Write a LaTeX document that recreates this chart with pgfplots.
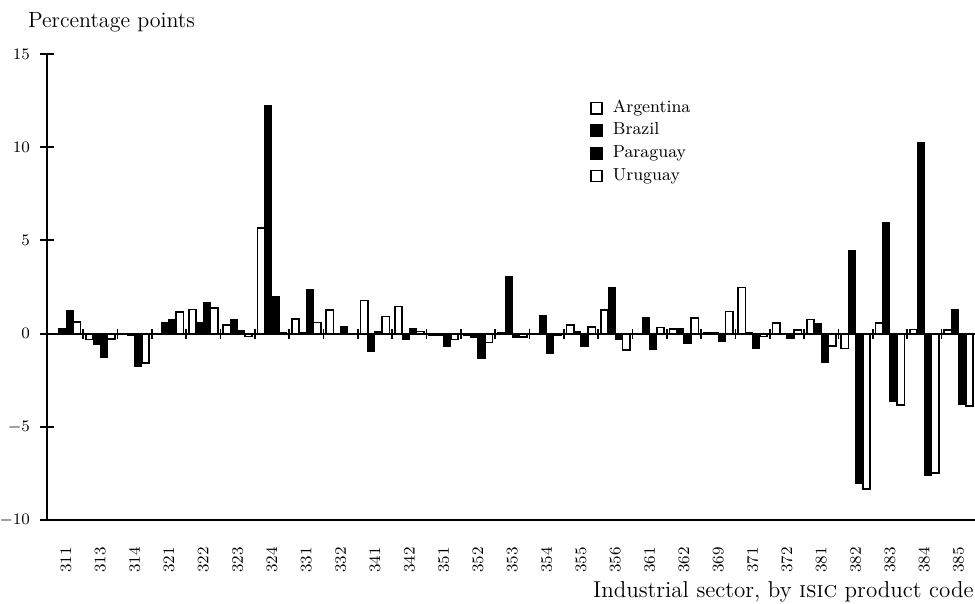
\documentclass[border=0pt]{standalone}
\usepackage{pgfplots}
\usepackage{pgfplotstable}
\pgfplotsset{compat=1.18}
\pgfplotstableread{
i code A B P U
0  311  0.00  0.28  1.22  0.63
1  313 -0.32 -0.60 -1.27 -0.28
2  314  0.00 -0.10 -1.78 -1.57
3  321  0.00  0.60  0.77  1.14
4  322  1.30  0.60  1.68  1.36
5  323  0.45  0.73  0.18 -0.15
6  324  5.65 12.25  1.98  0.05
7  331  0.80  0.05  2.35  0.60
8  332  1.27  0.00  0.40  0.00
9  341  1.78 -0.95  0.10  0.92
10 342  1.45 -0.34  0.30  0.12
11 351 -0.10 -0.10 -0.70 -0.32
12 352 -0.10 -0.20 -1.33 -0.48
13 353  0.05  3.07 -0.20 -0.18
14 354  0.00  0.97 -1.08 -0.10
15 355  0.45  0.10 -0.70  0.34
16 356  1.25  2.48 -0.30 -0.87
17 361  0.00  0.88 -0.88  0.33
18 362  0.25  0.30 -0.54  0.82
19 369  0.05  0.05 -0.45  1.18
20 371  2.47  0.05 -0.80 -0.15
21 372  0.58  0.00 -0.27  0.20
22 381  0.75  0.53 -1.55 -0.65
23 382 -0.80  4.46 -8.04 -8.33
24 383  0.55  5.98 -3.62 -3.82
25 384  0.22 10.27 -7.62 -7.48
26 385  0.20  1.27 -3.82 -3.88
}\data
\pgfplotsset{
  sqlegend/.style={legend image code/.code={\draw[##1, line width=0.8pt] (0pt,-2.8pt) rectangle (5.6pt,2.8pt);}},
  whitebar/.style={fill=white, draw=black, line width=0.85pt, sqlegend},
  blackbar/.style={fill=black, draw=black, line width=0.5pt, sqlegend},
}
\begin{document}
\begin{tikzpicture}
\useasboundingbox (-23.5pt,-42pt) rectangle (464pt,260pt);
\begin{axis}[
  at={(0,0)}, anchor=south west,
  scale only axis, width=464pt, height=233pt,
  xmin=-0.5535, xmax=26.478, ymin=-10, ymax=15,
  axis x line*=bottom, axis y line*=left,
  axis line style={line width=1.1pt, -},
  xtick={0,...,26},
  xticklabels={311,313,314,321,322,323,324,331,332,341,342,351,352,353,354,355,356,361,362,369,371,372,381,382,383,384,385},
  x tick style={draw=none},
  xticklabel style={rotate=90, anchor=east, font=\fontsize{8}{9}\selectfont},
  xticklabel shift=3pt,
  ytick={-10,-5,0,5,10,15},
  y tick style={line width=1pt, black},
  tick align=center, major tick length=7pt,
  yticklabel style={font=\fontsize{8}{9}\selectfont},
  yticklabel shift=1.5pt,
  ybar, bar width=0.211,
  legend cell align=left,
  legend style={draw=none, fill=none, at={(0.585,0.909)}, anchor=north west,
    font=\fontsize{8.7}{10}\selectfont, row sep=0pt, inner sep=0pt,
    nodes={inner sep=1.4pt, text height=6.3pt, text depth=2.2pt}},
]
\addplot[whitebar, bar shift=-0.3165] table[x=i, y=A] {\data};
\addplot[blackbar, bar shift=-0.1055] table[x=i, y=B] {\data};
\addplot[blackbar, bar shift=0.1055] table[x=i, y=P] {\data};
\addplot[whitebar, bar shift=0.3165] table[x=i, y=U] {\data};
\legend{\hspace{3.5pt}Argentina, \hspace{3.5pt}Brazil, \hspace{3.5pt}Paraguay, \hspace{3.5pt}Uruguay}
\end{axis}
\begin{axis}[
  at={(0,0)}, anchor=south west,
  scale only axis, width=464pt, height=233pt,
  xmin=-0.5535, xmax=26.478, ymin=-10, ymax=15,
  axis x line=middle, axis y line=none,
  axis line style={-, line width=1pt},
  xtick={0.5,1.5,...,25.5}, xticklabels={},
  tick align=center, major tick length=5pt,
  x tick style={line width=0.9pt, black},
]
\addplot[draw=none] coordinates {(0,0)};
\end{axis}
\node[anchor=base west, font=\fontsize{11}{13}\selectfont] at (-13pt,246pt) {Percentage points};
\node[anchor=base east, font=\fontsize{11.5}{13}\selectfont, inner sep=0pt] at (463.5pt,-39pt) {Industrial sector, by \textsc{isic} product code};
\end{tikzpicture}
\end{document}
